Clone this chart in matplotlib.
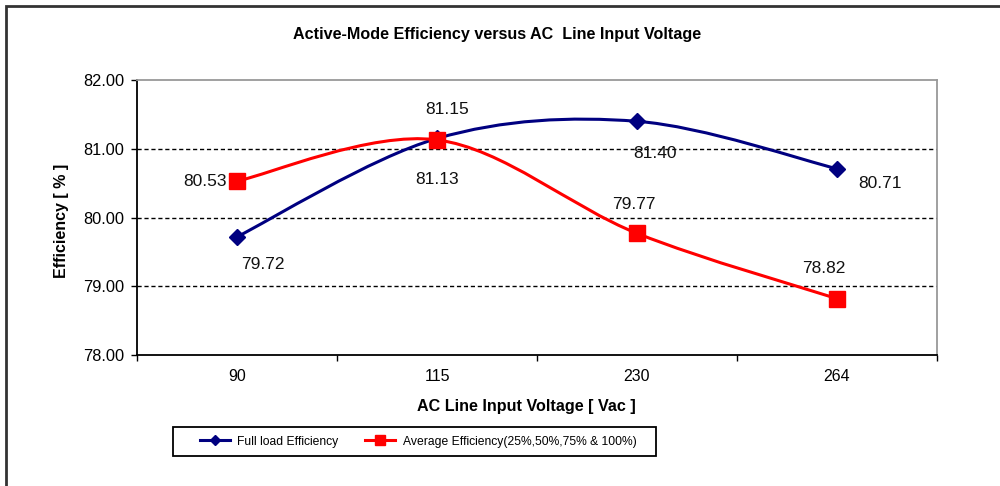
import matplotlib
matplotlib.use("Agg")
import matplotlib.pyplot as plt
import numpy as np
from matplotlib.path import Path
from matplotlib.patches import PathPatch, Rectangle
from matplotlib.lines import Line2D

plt.rcParams['font.family'] = ['Liberation Sans', 'DejaVu Sans']

voltages = ["90", "115", "230", "264"]
full_load = [79.72, 81.15, 81.40, 80.71]
average = [80.53, 81.13, 79.77, 78.82]
full_labels = ["79.72", "81.15", "81.40", "80.71"]
avg_labels = ["80.53", "81.13", "79.77", "78.82"]

NAVY = "#000080"
RED = "#FF0000"


def smooth_path(xs, ys):
    # Excel-like smoothed line (Catmull-Rom through Bezier segments)
    pts = np.column_stack([xs, ys]).astype(float)
    ext = np.vstack([pts[0], pts, pts[-1]])
    verts = [pts[0]]
    codes = [Path.MOVETO]
    for i in range(len(pts) - 1):
        p0, p1, p2, p3 = ext[i], ext[i + 1], ext[i + 2], ext[i + 3]
        c1 = p1 + (p2 - p0) / 6.0
        c2 = p2 - (p3 - p1) / 6.0
        verts += [c1, c2, p2]
        codes += [Path.CURVE4] * 3
    return Path(verts, codes)


fig = plt.figure(figsize=(10, 4.86), dpi=100)
ax = fig.add_axes([0.137, 0.2695, 0.8, 0.5658])

x = np.arange(len(voltages))

ax.add_patch(PathPatch(smooth_path(x, full_load), fill=False, edgecolor=NAVY, lw=2.2, zorder=3))
ax.add_patch(PathPatch(smooth_path(x, average), fill=False, edgecolor=RED, lw=2.2, zorder=3))
ax.plot(x, full_load, ls="none", marker="D", ms=8, color=NAVY, zorder=4)
ax.plot(x, average, ls="none", marker="s", ms=11, color=RED, zorder=4)

# data labels (pixel offsets from each point)
full_off = [(26, -28), (10, 29), (18, -32), (43, -15)]
avg_off = [(-32, 0), (0, -40), (-3, 29), (-13, 30)]
for xi, yi, lab, off in zip(x, full_load, full_labels, full_off):
    ax.annotate(lab, (xi, yi), xytext=off, textcoords="offset pixels",
                ha="center", va="center", fontsize=12.5, color="#111111")
for xi, yi, lab, off in zip(x, average, avg_labels, avg_off):
    ax.annotate(lab, (xi, yi), xytext=off, textcoords="offset pixels",
                ha="center", va="center", fontsize=12.5, color="#111111")

ax.set_xlim(-0.5, 3.5)
ax.set_ylim(78, 82)
ax.set_xticks(x)
ax.set_xticklabels(voltages)
ax.set_xticks(np.arange(-0.5, 4, 1.0), minor=True)
ax.set_yticks([78, 79, 80, 81, 82])
ax.set_yticklabels(["%.2f" % v for v in [78, 79, 80, 81, 82]])
ax.tick_params(axis="x", which="major", length=0, pad=10, labelsize=11.5)
ax.tick_params(axis="x", which="minor", length=4, width=1, direction="out")
ax.tick_params(axis="y", length=4, width=1, direction="out", pad=5, labelsize=11.8)

for v in [79, 80, 81]:
    ax.axhline(v, color="black", lw=1, ls=(0, (3, 2)), zorder=1)

ax.spines["left"].set_color("black")
ax.spines["bottom"].set_color("black")
ax.spines["left"].set_linewidth(1.3)
ax.spines["bottom"].set_linewidth(1.3)
ax.spines["top"].set_color("#999999")
ax.spines["right"].set_color("#999999")
ax.spines["top"].set_linewidth(1.3)
ax.spines["right"].set_linewidth(1.3)

ax.set_xlabel("AC Line Input Voltage [ Vac ]", fontsize=11.6, fontweight="bold")
ax.xaxis.set_label_coords((526 - 137) / 800, -44 / 275)
ax.set_ylabel("Efficiency [ % ]", fontsize=11.5, fontweight="bold")
ax.yaxis.set_label_coords(-(137 - 69) / 800, (355 - 221) / 275)
fig.text(0.4975, 1 - 35 / 486, "Active-Mode Efficiency versus AC  Line Input Voltage",
         ha="center", va="center", fontsize=11.6, fontweight="bold")

handles = [
    Line2D([], [], color=NAVY, lw=2.2, marker="D", ms=5),
    Line2D([], [], color=RED, lw=2.2, marker="s", ms=7),
]
leg = fig.legend(handles, ["Full load Efficiency", "Average Efficiency(25%,50%,75% & 100%)"],
                 loc="center", bbox_to_anchor=(418 / 1000, 1 - 441.5 / 486), ncol=2,
                 frameon=False, fontsize=8.7, handlelength=2.5,
                 columnspacing=2.2, borderpad=0.55, handletextpad=0.6)
# legend box drawn separately (Excel pads it unevenly)
fig.patches.append(Rectangle((173 / 1000, 1 - 456 / 486), 483 / 1000, 29 / 486,
                             transform=fig.transFigure, fill=False, edgecolor="black",
                             lw=1.3, figure=fig))

# outer chart border
fig.patches.append(Rectangle((6 / 1000, -0.1), 1.2, 1 - 6 / 486 + 0.1, transform=fig.transFigure,
                             fill=False, edgecolor="#333333", lw=2, figure=fig))

fig.savefig("out.png", dpi=100)
